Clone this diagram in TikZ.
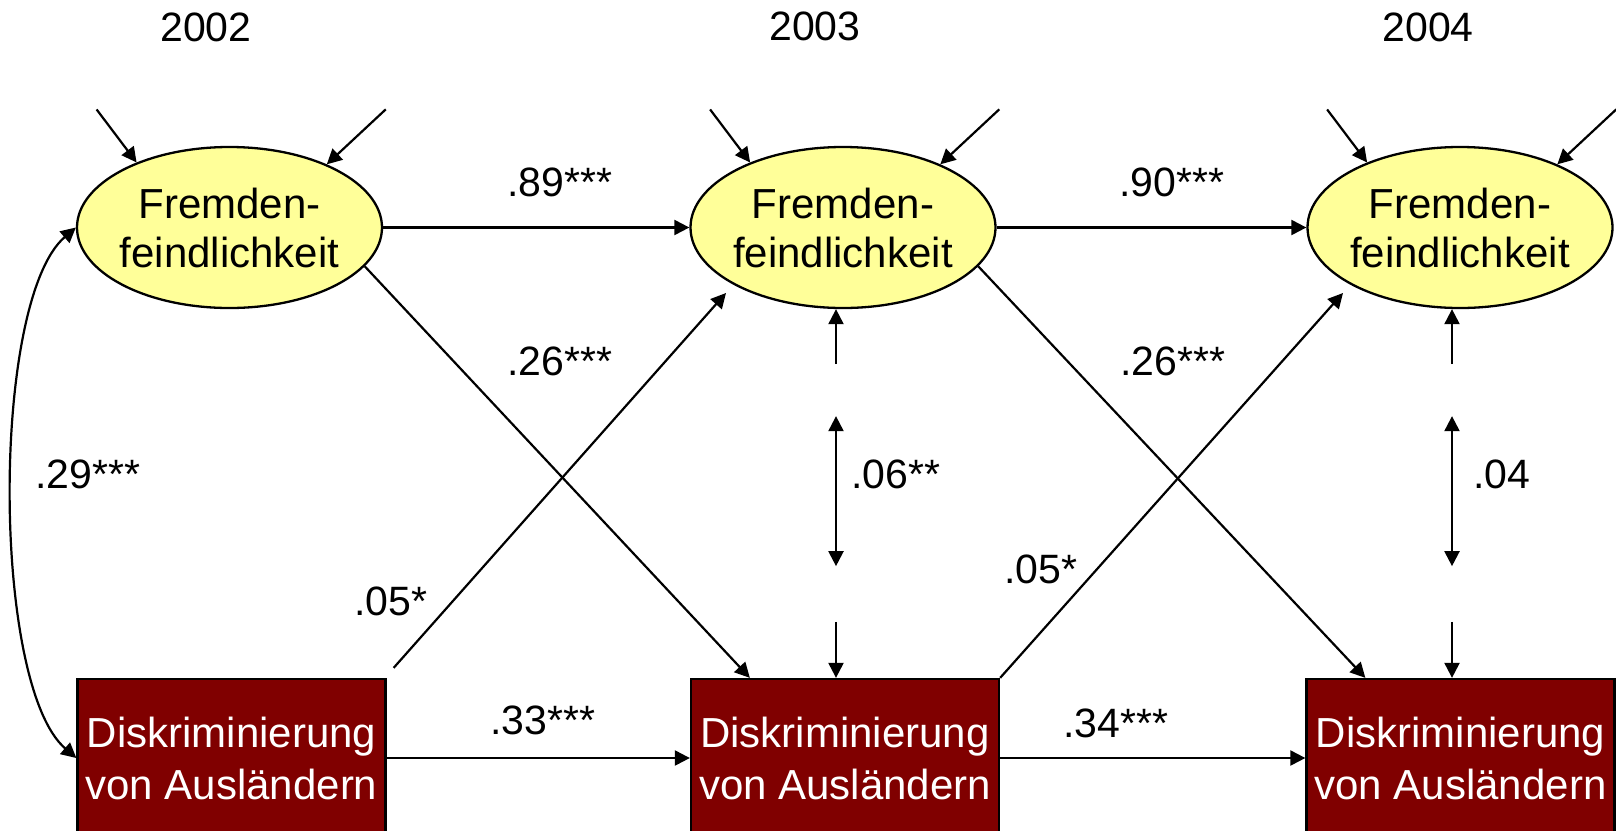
\documentclass[tikz,border=0pt]{standalone}
\usepackage{fontspec}
\setmainfont{Liberation Sans}
\usetikzlibrary{shapes.geometric,arrows.meta,calc}
\definecolor{latentfill}{RGB}{255,255,153}
\definecolor{manifestfill}{RGB}{128,0,0}
\begin{document}
\begin{tikzpicture}[x=1pt,y=-1pt,
  latent/.style={ellipse,draw=black,line width=2.3pt,fill=latentfill,
    minimum width=305pt,minimum height=161pt,inner sep=0pt},
  lattext/.style={font=\fontsize{42}{49}\selectfont,align=center,text=black,inner sep=0pt},
  manifest/.style={rectangle,draw=black,line width=2.3pt,fill=manifestfill,
    minimum width=308pt,minimum height=158pt,inner sep=0pt,text=white,
    font=\fontsize{42}{52}\selectfont,align=center},
  coef/.style={font=\fontsize{41}{49}\selectfont,anchor=base,inner sep=0pt},
  effect/.style={line width=2.2pt,-{Triangle[length=15pt,width=15pt]}},
  corr/.style={line width=2.2pt,{Triangle[length=15pt,width=15pt]}-{Triangle[length=15pt,width=15pt]}},
]
\path[use as bounding box,clip] (0,0) rectangle (1616,830);

% years
\node[coef] (y1) at (206,41.7) {2002};
\node[coef] (y2) at (815,40) {2003};
\node[coef] (y3) at (1428,41.7) {2004};

% latent variables
\node[latent] (f1) at (229.5,227.5) {};
\node[latent] (f2) at (843,227.5) {};
\node[latent] (f3) at (1460,227.5) {};
\node[lattext] (f1t) at (f1) {Fremden-\\feindlichkeit};
\node[lattext] (f2t) at (f2) {Fremden-\\feindlichkeit};
\node[lattext] (f3t) at (f3) {Fremden-\\feindlichkeit};

% manifest variables
\node[manifest] (d1) at (231.5,758) {Diskriminierung\\von Ausländern};
\node[manifest] (d2) at (845,758) {Diskriminierung\\von Ausländern};
\node[manifest] (d3) at (1460.5,758) {Diskriminierung\\von Ausländern};

% residual arrows
\foreach \f in {f1,f2,f3}{
  \draw[effect] ($(\f.145)+(-40,-53)$) -- (\f.145);
  \draw[effect] ($(\f.33)+(59,-55)$) -- (\f.33);
}

% stability paths
\draw[effect] (f1.east) -- (f2.west);
\draw[effect] (f2.east) -- (f3.west);
\draw[effect] (d1.east) -- (d2.west);
\draw[effect] (d2.east) -- (d3.west);

% cross-lagged paths
\draw[effect] (f1.344) -- ($(d2.north west)+(60,0)$);
\draw[effect] (f2.344) -- ($(d3.north west)+(60,0)$);
\draw[effect] ($(d1.north east)+(7,-10)$) -- ($(f2.center)+(-117,65.5)$);
\draw[effect] (d2.north east) -- ($(f3.center)+(-117,65.5)$);

% correlated residuals
\draw[effect] ($(f2.south)+(-7,55)$) -- ($(f2.south)+(-7,0)$);
\draw[corr] ($(f2.south)+(-7,107)$) -- ($(f2.south)+(-7,257)$);
\draw[effect] ($(d2.north)+(-9,-56)$) -- ($(d2.north)+(-9,0)$);
\draw[effect] ($(f3.south)+(-8,55)$) -- ($(f3.south)+(-8,0)$);
\draw[corr] ($(f3.south)+(-8,107)$) -- ($(f3.south)+(-8,257)$);
\draw[effect] ($(d3.north)+(-8.5,-56)$) -- ($(d3.north)+(-8.5,0)$);

% initial correlation
\draw[corr] (f1.west) .. controls ($(f1.west)+(-85,73)$) and ($(d1.west)+(-85,-73)$) .. (d1.west);

% coefficients
\node[coef] (c1) at (560,196) {.89***};
\node[coef] (c2) at (1172,196) {.90***};
\node[coef] (c3) at (560,375) {.26***};
\node[coef] (c4) at (1173,375) {.26***};
\node[coef] (c5) at (88,488) {.29***};
\node[coef] (c6) at (896,488) {.06**};
\node[coef] (c7) at (1502,488) {.04};
\node[coef] (c8) at (391,615) {.05*};
\node[coef] (c9) at (1041,583) {.05*};
\node[coef] (c10) at (543,734) {.33***};
\node[coef] (c11) at (1116,737) {.34***};
\end{tikzpicture}
\end{document}
